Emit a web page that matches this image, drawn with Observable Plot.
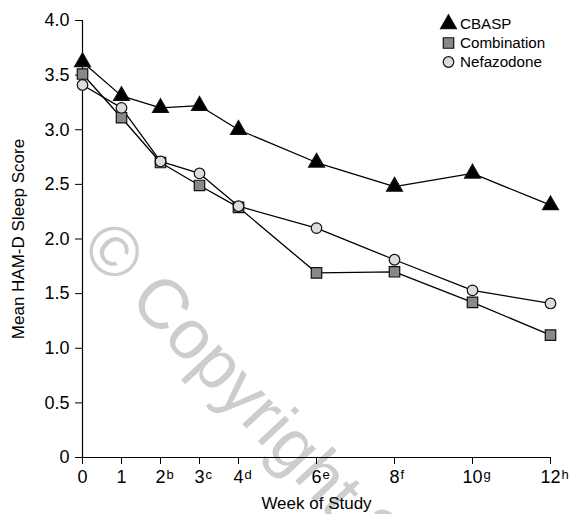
<!DOCTYPE html>
<html><head><meta charset="utf-8">
<script src="https://cdn.jsdelivr.net/npm/d3@7"></script>
<script src="https://cdn.jsdelivr.net/npm/@observablehq/plot@0.6"></script>
<style>
body{margin:0;background:#fff;overflow:hidden;font-family:"Liberation Sans",Arial,sans-serif;}
#wrap{position:relative;width:569px;height:514px;overflow:hidden;}
#wm{position:absolute;left:0;top:0;}
#chart{position:absolute;left:0;top:0;}
#legend{position:absolute;left:440px;top:14px;font-size:15.2px;color:#000;}
#legend .row{display:flex;align-items:center;height:19px;}
#legend svg{width:17px;height:16px;margin-right:3px;overflow:visible;}
</style></head><body>
<div id="wrap">
<svg id="wm" width="569" height="514"><text transform="translate(79,249) rotate(47)" font-family="Liberation Sans, Arial, sans-serif" font-size="70" fill="#cdcdcd">© Copyright 2004</text></svg>
<div id="chart"></div>
<div id="legend"></div>
</div>
<script>
const weeks = [0, 1, 2, 3, 4, 6, 8, 10, 12];
const cbasp = [3.62, 3.31, 3.2, 3.22, 3.0, 2.7, 2.48, 2.6, 2.31];
const combination = [3.51, 3.11, 2.7, 2.49, 2.29, 1.69, 1.7, 1.42, 1.12];
const nefazodone = [3.41, 3.2, 2.71, 2.6, 2.3, 2.1, 1.81, 1.53, 1.41];
const seriesNames = ["CBASP", "Combination", "Nefazodone"];
const xTickLabels = ["0", "1", "2", "3", "4", "6", "8", "10", "12"];
const xTickSuper = ["", "", "b", "c", "d", "e", "f", "g", "h"];
const yTicks = [0, 0.5, 1, 1.5, 2, 2.5, 3, 3.5, 4];
const yTickLabels = ["0", "0.5", "1.0", "1.5", "2.0", "2.5", "3.0", "3.5", "4.0"];

const seriesValues = [cbasp, combination, nefazodone];
const symbols = ["triangle", "square", "circle"];
const fills = ["#000", "#888", "#dcdcdc"];
const radii = [5.9, 5.9, 5.3];

const rows = [];
seriesNames.forEach((s, si) => weeks.forEach((w, i) => rows.push({series: s, week: w, value: seriesValues[si][i]})));

const font = "Liberation Sans, Arial, sans-serif";
const plot = Plot.plot({
  width: 569, height: 514,
  marginLeft: 82, marginRight: 19, marginTop: 20, marginBottom: 57,
  style: {background: "transparent", fontFamily: font, fontSize: "17px", color: "#000", overflow: "visible"},
  x: {domain: [0, 12]},
  y: {domain: [0, 4]},
  marks: [
    Plot.axisY({ticks: yTicks, tickFormat: (d) => yTickLabels[yTicks.indexOf(d)], tickSize: 7, tickPadding: 6,
      label: null, fontSize: 18}),
    Plot.axisY({ticks: [], label: "Mean HAM-D Sleep Score", labelAnchor: "center", labelArrow: "none", labelOffset: 71, fontSize: 17}),
    Plot.axisX({ticks: weeks, tickFormat: d => xTickLabels[weeks.indexOf(d)], tickSize: 7, tickPadding: 6,
      label: null, fontSize: 18}),
    Plot.axisX({ticks: [], label: "Week of Study", labelAnchor: "center", labelArrow: "none", labelOffset: 51, fontSize: 17}),
    Plot.ruleX([0], {y1: 0, y2: 4, stroke: "#000", strokeWidth: 1.2}),
    Plot.ruleY([0], {stroke: "#000", strokeWidth: 1.2}),
    Plot.line(rows, {x: "week", y: "value", z: "series", stroke: "#000", strokeWidth: 1.3}),
    ...seriesNames.map((s, si) => Plot.dot(rows.filter(r => r.series === s), {
      x: "week", y: "value", symbol: () => symbols[si], fill: fills[si], stroke: "#111", strokeWidth: 1.2, r: radii[si]
    }))
  ]
});
document.getElementById("chart").appendChild(plot);

// superscripts on x tick labels
const xTexts = plot.querySelectorAll('g[aria-label="x-axis tick label"] text');
xTexts.forEach((t) => {
  const idx = xTickLabels.indexOf(t.textContent);
  const sup = xTickSuper[idx];
  if (!sup) return;
  const w = t.getComputedTextLength();
  t.setAttribute("text-anchor", "start");
  t.setAttribute("dx", -w / 2);
  const ts = document.createElementNS("http://www.w3.org/2000/svg", "tspan");
  ts.setAttribute("font-size", "13");
  ts.setAttribute("dy", "-4");
  ts.setAttribute("dx", "1");
  ts.textContent = sup;
  t.appendChild(ts);
});

// legend
const leg = document.getElementById("legend");
seriesNames.forEach((s, si) => {
  const row = document.createElement("div");
  row.className = "row";
  const sym = d3.symbol(si === 0 ? d3.symbolTriangle : si === 1 ? d3.symbolSquare : d3.symbolCircle, radii[si] * radii[si] * Math.PI)();
  row.innerHTML = `<svg viewBox="-8.5 -8 17 16"><path d="${sym}" fill="${fills[si]}" stroke="#111" stroke-width="1.2"/></svg><span>${s}</span>`;
  leg.appendChild(row);
});
</script>
</body></html>
